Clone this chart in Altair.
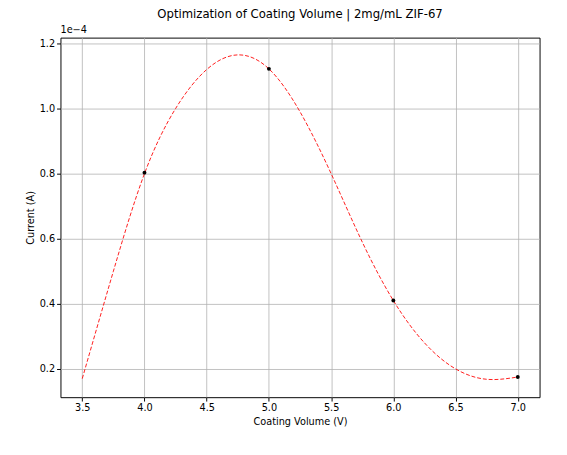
import altair as alt
import pandas as pd

volume = [4.0, 5.0, 6.0, 7.0]
current = [0.803, 1.122, 0.41, 0.175]  # units of 1e-4 A

# fitted curve
fit_x = [3.5, 3.75, 4.0, 4.25, 4.5, 4.75, 5.0, 5.25, 5.5, 5.75, 6.0, 6.25, 6.5, 6.75, 7.0]
fit_y = [0.17, 0.50, 0.80, 1.00, 1.12, 1.165, 1.122, 0.99, 0.80, 0.59, 0.41, 0.28, 0.20, 0.168, 0.175]

df = pd.DataFrame({"Volume": volume, "Current": current})
fdf = pd.DataFrame({"Volume": fit_x, "Current": fit_y})
xs = alt.Scale(domain=[3.325, 7.175], nice=False, zero=False)
ys = alt.Scale(domain=[0.113, 1.218], nice=False, zero=False)
ax = dict(grid=True, gridColor="#b0b0b0", gridWidth=0.8, tickColor="black",
          domain=False, labelFontSize=10, titleFontSize=10, labelColor="black",
          titleColor="black", titleFontWeight="normal", labelFont="DejaVu Sans",
          titleFont="DejaVu Sans", tickSize=4)

fit = alt.Chart(fdf).mark_line(
    color="red", strokeDash=[4, 2], strokeWidth=0.9, interpolate="natural"
).encode(
    x=alt.X("Volume:Q", scale=xs, title="Coating Volume (V)",
            axis=alt.Axis(values=[3.5, 4, 4.5, 5, 5.5, 6, 6.5, 7], format=".1f", **ax)),
    y=alt.Y("Current:Q", scale=ys, title="Current (A)",
            axis=alt.Axis(values=[0.2, 0.4, 0.6, 0.8, 1.0, 1.2], format=".1f", **ax)),
)
pts = alt.Chart(df).mark_point(filled=True, color="black", size=16, opacity=1).encode(
    x=alt.X("Volume:Q", scale=xs), y=alt.Y("Current:Q", scale=ys))
exp = alt.Chart(pd.DataFrame({"t": ["1e\u22124"]})).mark_text(
    align="left", baseline="bottom", font="DejaVu Sans", fontSize=10, dy=-3
).encode(x=alt.value(0), y=alt.value(0), text="t:N")

chart = (fit + pts + exp).properties(
    width=493, height=370,
    title=alt.TitleParams("Optimization of Coating Volume | 2mg/mL ZIF-67",
                          font="DejaVu Sans", fontSize=12, fontWeight="normal", offset=4),
    autosize="none", padding={"left": 54, "top": 24, "right": 20, "bottom": 53},
).configure_view(stroke="black", strokeWidth=1)

chart.save("out.html", embed_options={"renderer": "svg", "actions": False})
